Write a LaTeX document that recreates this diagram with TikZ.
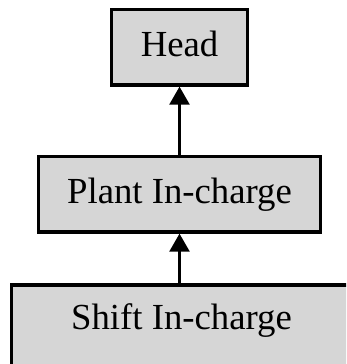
\documentclass[tikz,border=0pt]{standalone}
\usepackage{fontspec}
\setmainfont{Liberation Serif}
\usepackage{tikz}
\usetikzlibrary{positioning,arrows.meta,calc}

\definecolor{boxgray}{HTML}{D6D6D6}

\begin{document}
\begin{tikzpicture}[
    font=\fontsize{20.9}{25}\selectfont,
    level/.style={
        rectangle,
        draw=black,
        line width=1.8pt,
        fill=boxgray,
        text height=0.55cm,
        text depth=0.18cm,
        inner xsep=0.58cm,
        inner ysep=0.39cm,
        anchor=north
    },
    arrow/.style={-{Triangle[length=0.36cm,width=0.4cm]}, line width=1.4pt}]

    % Page frame
    \clip (0,0) rectangle (6.92,7.28);

    % Hierarchy levels
    \node[level] (head) at (3.59,7.12) {Head};
    \node[level] (plant) at (3.59,4.18) {Plant In-charge};
    \node[level, minimum width=6.8cm, text height=0.5cm, text depth=0.6cm] (shift) at (3.63,1.61) {Shift In-charge};

    % Reporting lines
    \draw[arrow] (plant.north) -- (head.south);
    \draw[arrow] (shift.north -| plant.south) -- (plant.south);
\end{tikzpicture}
\end{document}
